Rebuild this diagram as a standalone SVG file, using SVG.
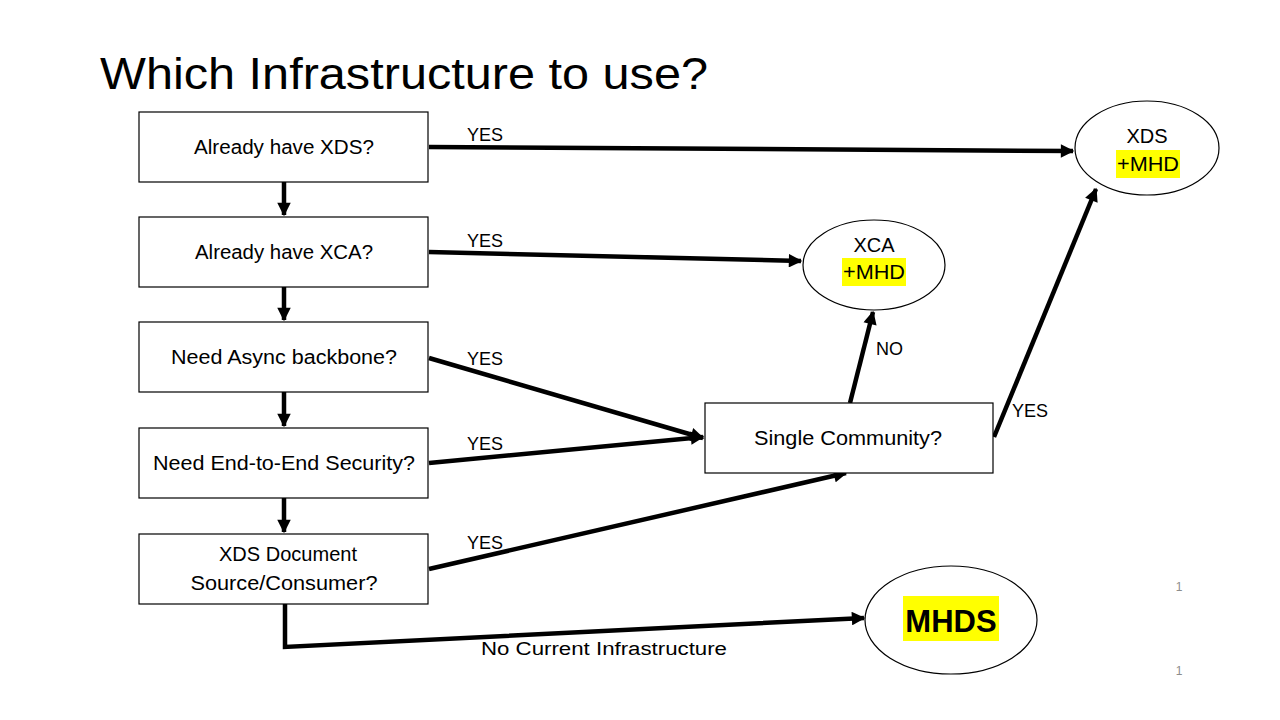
<svg xmlns="http://www.w3.org/2000/svg" width="1280" height="720" viewBox="0 0 1280 720">
<style>
.box{fill:#fff;stroke:#000;stroke-width:1.2}
.ell{fill:#fff;stroke:#000;stroke-width:1.2}
.t{font-family:"Liberation Sans",Arial,sans-serif;font-size:20px;fill:#000;text-anchor:middle}
.lbl{font-family:"Liberation Sans",Arial,sans-serif;font-size:18px;fill:#000}
.c{fill:none;stroke:#000;stroke-width:4.5}
.hl{fill:#ffff00}
</style>
<defs>
<marker id="ah" viewBox="0 0 10 10" refX="9" refY="5" markerWidth="3.4" markerHeight="3" orient="auto" markerUnits="strokeWidth">
<path d="M0,0 L10,5 L0,10 Z" fill="#000"/>
</marker>
</defs>
<rect width="1280" height="720" fill="#fff"/>
<text x="100" y="89" font-family="'Liberation Sans',Arial,sans-serif" font-size="45" textLength="608" lengthAdjust="spacingAndGlyphs">Which Infrastructure to use?</text>

<g id="connectors">
<line class="c" x1="284" y1="182" x2="284" y2="215" marker-end="url(#ah)"/>
<line class="c" x1="284" y1="287" x2="284" y2="320" marker-end="url(#ah)"/>
<line class="c" x1="284" y1="392" x2="284" y2="426" marker-end="url(#ah)"/>
<line class="c" x1="284" y1="498" x2="284" y2="532" marker-end="url(#ah)"/>
<line class="c" x1="429" y1="147" x2="1073" y2="151" marker-end="url(#ah)"/>
<line class="c" x1="429" y1="252" x2="801" y2="261" marker-end="url(#ah)"/>
<line class="c" x1="429" y1="358" x2="703" y2="438" marker-end="url(#ah)"/>
<line class="c" x1="429" y1="463" x2="703" y2="437" marker-end="url(#ah)"/>
<line class="c" x1="429" y1="569" x2="846" y2="473" marker-end="url(#ah)"/>
<line class="c" x1="850" y1="403" x2="873" y2="312" marker-end="url(#ah)"/>
<line class="c" x1="994" y1="437" x2="1096" y2="189" marker-end="url(#ah)"/>
<polyline class="c" points="285,604 285,647 864,618" marker-end="url(#ah)"/>
<text class="lbl" x="467" y="141">YES</text>
<text class="lbl" x="467" y="247">YES</text>
<text class="lbl" x="467" y="365">YES</text>
<text class="lbl" x="467" y="450">YES</text>
<text class="lbl" x="467" y="549">YES</text>
<text class="lbl" x="876" y="355">NO</text>
<text class="lbl" x="1012" y="417">YES</text>
<text class="lbl" x="481" y="655" font-size="19" textLength="246" lengthAdjust="spacingAndGlyphs">No Current Infrastructure</text>
</g>

<g id="n1"><rect class="box" x="139" y="112" width="289" height="70"/><text class="t" x="284" y="154" textLength="180" lengthAdjust="spacingAndGlyphs">Already have XDS?</text></g>
<g id="n2"><rect class="box" x="139" y="217" width="289" height="70"/><text class="t" x="284" y="259" textLength="178" lengthAdjust="spacingAndGlyphs">Already have XCA?</text></g>
<g id="n3"><rect class="box" x="139" y="322" width="289" height="70"/><text class="t" x="284" y="364" textLength="226" lengthAdjust="spacingAndGlyphs">Need Async backbone?</text></g>
<g id="n4"><rect class="box" x="139" y="428" width="289" height="70"/><text class="t" x="284" y="470" textLength="262" lengthAdjust="spacingAndGlyphs">Need End-to-End Security?</text></g>
<g id="n5"><rect class="box" x="139" y="534" width="289" height="70"/><text class="t" x="288" y="561" textLength="138" lengthAdjust="spacingAndGlyphs">XDS Document</text><text class="t" x="284" y="590" textLength="187" lengthAdjust="spacingAndGlyphs">Source/Consumer?</text></g>
<g id="n6"><rect class="box" x="705" y="403" width="288" height="70"/><text class="t" x="848" y="445" textLength="188" lengthAdjust="spacingAndGlyphs">Single Community?</text></g>

<g id="xds"><ellipse class="ell" cx="1147" cy="148" rx="72" ry="47"/><rect class="hl" x="1116" y="150" width="64" height="28"/><text class="t" x="1147" y="143">XDS</text><text class="t" x="1148" y="171" textLength="62" lengthAdjust="spacingAndGlyphs">+MHD</text></g>
<g id="xca"><ellipse class="ell" cx="874" cy="265" rx="71" ry="45"/><rect class="hl" x="842" y="258" width="64" height="28"/><text class="t" x="874" y="252">XCA</text><text class="t" x="874" y="279" textLength="62" lengthAdjust="spacingAndGlyphs">+MHD</text></g>
<g id="mhds"><ellipse class="ell" cx="951" cy="620" rx="86" ry="54"/><rect class="hl" x="903" y="596" width="96" height="45"/><text x="951" y="632" font-family="'Liberation Sans',Arial,sans-serif" font-size="31" font-weight="bold" text-anchor="middle">MHDS</text></g>

<text x="1179" y="591" font-family="'Liberation Sans',Arial,sans-serif" font-size="12" fill="#8c8c8c" text-anchor="middle">1</text>
<text x="1179" y="675" font-family="'Liberation Sans',Arial,sans-serif" font-size="12" fill="#8c8c8c" text-anchor="middle">1</text>
</svg>
